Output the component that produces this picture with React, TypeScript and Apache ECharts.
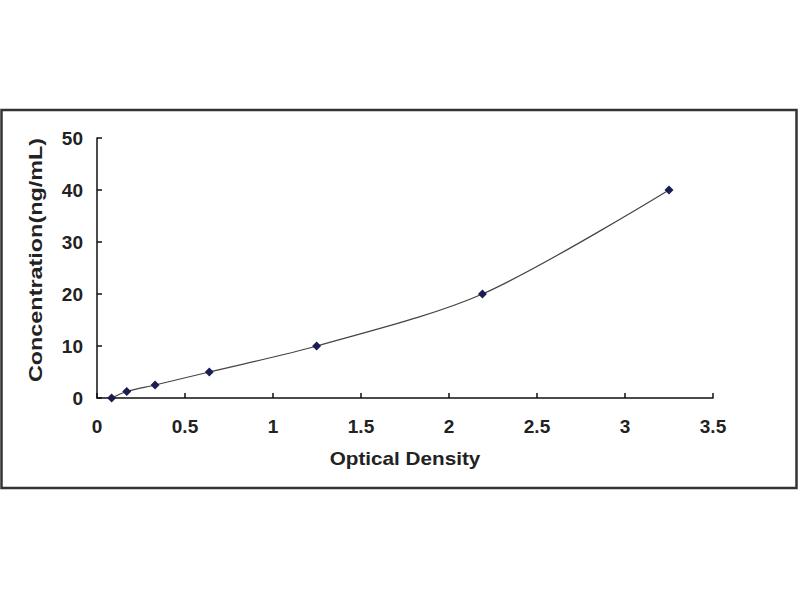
import React, { useEffect, useRef } from "react";
import * as echarts from "echarts";

const opticalDensity = [0.083, 0.169, 0.33, 0.638, 1.248, 2.19, 3.25];
const concentration = [0, 1.25, 2.5, 5, 10, 20, 40];
const xTitle = "Optical Density";
const yTitle = "Concentration(ng/mL)";

export default function App() {
  const ref = useRef<HTMLDivElement>(null);
  useEffect(() => {
    if (!ref.current) return;
    const chart = echarts.init(ref.current, null, { renderer: "svg" });
    const pts = opticalDensity.map((x, i) => [x, concentration[i]]);
    const font = "'Liberation Sans', Arial, sans-serif";
    chart.setOption({
      animation: false,
      backgroundColor: "#ffffff",
      grid: { left: 97, top: 138, right: 87, bottom: 202 },
      xAxis: {
        type: "value",
        min: 0,
        max: 3.5,
        interval: 0.5,
        axisLine: { show: true, lineStyle: { color: "#111", width: 1.5 } },
        axisTick: { show: true, inside: true, length: 5, lineStyle: { color: "#111", width: 1.5 } },
        axisLabel: { color: "#222", fontSize: 19, fontWeight: "bold", fontFamily: font, margin: 19 },
        splitLine: { show: false },
      },
      yAxis: {
        type: "value",
        min: 0,
        max: 50,
        interval: 10,
        axisLine: { show: true, lineStyle: { color: "#111", width: 1.5 } },
        axisTick: { show: true, inside: true, length: 5, lineStyle: { color: "#111", width: 1.5 } },
        axisLabel: { color: "#222", fontSize: 19, fontWeight: "bold", fontFamily: font, margin: 14 },
        splitLine: { show: false },
      },
      series: [
        {
          type: "line",
          data: pts,
          smooth: 0.3,
          symbol: "diamond",
          symbolSize: 9,
          lineStyle: { color: "#444", width: 1.2 },
          itemStyle: { color: "#1c1c55" },
        },
      ],
      graphic: [
        {
          type: "rect",
          shape: { x: 1.5, y: 110, width: 795, height: 378 },
          style: { fill: "none", stroke: "#333", lineWidth: 2.5 },
          silent: true,
        },
        {
          type: "text",
          x: 405,
          y: 459,
          scaleX: 1.15,
          style: {
            text: xTitle,
            fill: "#222",
            font: `bold 18px ${font}`,
            align: "center",
            verticalAlign: "middle",
          },
        },
        {
          type: "text",
          x: 36,
          y: 260,
          rotation: Math.PI / 2,
          scaleX: 1.3,
          style: {
            text: yTitle,
            fill: "#222",
            font: `bold 18px ${font}`,
            align: "center",
            verticalAlign: "middle",
          },
        },
      ],
    });
    return () => chart.dispose();
  }, []);
  return (
    <div
      ref={ref}
      style={{ position: "fixed", left: 0, top: 0, width: 800, height: 600, background: "#fff" }}
    />
  );
}
